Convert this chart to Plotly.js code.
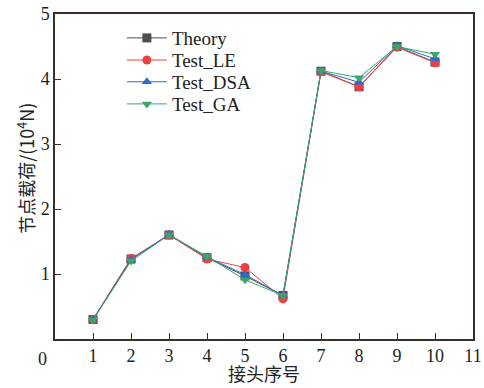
<!DOCTYPE html>
<html><head><meta charset="utf-8">
<script src="https://cdn.plot.ly/plotly-3.0.1.min.js"></script>
<style>body{margin:0;background:#fff}#c{width:484px;height:388px}</style>
</head><body><div id="c"></div>
<script>
const joints = [1,2,3,4,5,6,7,8,9,10];
const theory = [0.30,1.23,1.60,1.25,0.97,0.67,4.12,3.88,4.50,4.26];
const testLE = [0.30,1.24,1.60,1.23,1.10,0.62,4.11,3.88,4.49,4.25];
const testDSA = [0.30,1.22,1.61,1.26,0.99,0.67,4.12,3.95,4.51,4.31];
const testGA = [0.29,1.20,1.60,1.27,0.91,0.67,4.13,4.02,4.50,4.38];
const seriesNames = ['Theory','Test_LE','Test_DSA','Test_GA'];
const xTicks = [1,2,3,4,5,6,7,8,9,10,11];
const yTicks = [1,2,3,4,5];

const colors = ['#4d4d4d','#ee4040','#2d6ccc','#3aa66a'];
const symbols = ['square','circle','triangle-up','triangle-down'];
const legendIds = ['legend','legend2','legend3','legend4'];
const data = [theory,testLE,testDSA,testGA].map((ys,i)=>({
  x: joints, y: ys, name: seriesNames[i], type:'scatter', mode:'lines+markers',
  legend: legendIds[i],
  line:{color:colors[i], width:1},
  marker:{color:colors[i], symbol:symbols[i], size:9}
}));
const font = {family:'Liberation Serif, Times New Roman, serif', size:18, color:'#222'};
const legFont = {family:'Liberation Serif, Times New Roman, serif', size:19, color:'#222'};
const legY = [0.926, 0.858, 0.791, 0.723];
const layout = {
  width:484, height:388,
  margin:{l:55, r:11, t:14, b:49},
  paper_bgcolor:'#fff', plot_bgcolor:'#fff',
  showlegend:true,
  xaxis:{range:[0,11], tickvals:xTicks, ticks:'inside', ticklen:6, tickcolor:'#3a2e2a',
    showline:true, linecolor:'#3a2e2a', linewidth:1.5, mirror:true, showgrid:false, zeroline:false,
    tickfont:font},
  yaxis:{range:[0,5], tickvals:yTicks, ticks:'inside', ticklen:6, tickcolor:'#3a2e2a',
    showline:true, linecolor:'#3a2e2a', linewidth:1.5, mirror:true, showgrid:false, zeroline:false,
    tickfont:font},
  annotations:[
    {text:'0', xref:'paper', yref:'paper', x:0, y:0, xanchor:'right', yanchor:'top',
     xshift:-6, yshift:-8, showarrow:false, font:font},
    {text:'节点载荷/(10<sup>4</sup>N)', xref:'paper', yref:'paper', x:-0.07, y:0.526,
     xanchor:'center', yanchor:'middle', textangle:-90, showarrow:false,
     font:{family:'Noto Sans CJK SC', size:18, color:'#222'}},
    {text:'接头序号', xref:'paper', yref:'paper', x:0.5, y:-0.1477,
     xanchor:'center', yanchor:'bottom', showarrow:false, borderpad:0,
     font:{family:'Noto Sans CJK SC', size:18, color:'#222'}}
  ]
};
legendIds.forEach((id,i)=>{
  layout[id] = {x:0.16, y:legY[i], xanchor:'left', yanchor:'middle', bgcolor:'rgba(0,0,0,0)',
    font:legFont, itemwidth:40};
});
Plotly.newPlot('c', data, layout, {displayModeBar:false});
</script></body></html>
